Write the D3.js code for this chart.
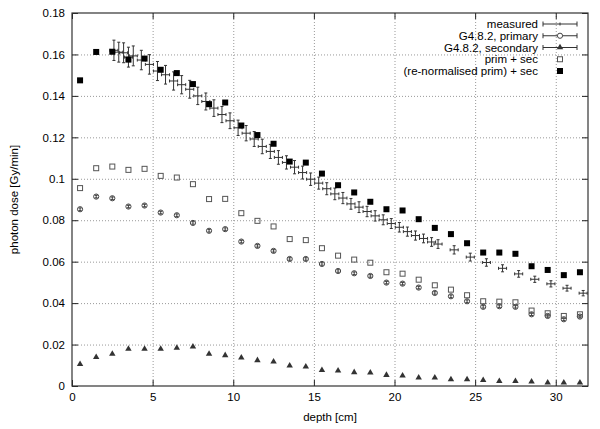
<!DOCTYPE html>
<html>
<head>
<meta charset="utf-8">
<script src="https://cdn.jsdelivr.net/npm/d3@7"></script>
<style>
body{margin:0;background:#fff;}
svg{display:block;font-family:"Liberation Sans",Arial,sans-serif;}
.grid line{stroke:#999;stroke-dasharray:1,2;}
.grid path{display:none;}
.axis path{display:none;}
.axis line{stroke:#222;}
.axis text{fill:#000;font-size:11.5px;}
</style>
</head>
<body>
<div id="chart"></div>
<script>
// simulated depths (bin centres)
var simDepth = [0.5,1.5,2.5,3.5,4.5,5.5,6.5,7.5,8.5,9.5,10.5,11.5,12.5,13.5,14.5,15.5,
	16.5,17.5,18.5,19.5,20.5,21.5,22.5,23.5,24.5,25.5,26.5,27.5,28.5,29.5,30.5,31.5];

var primary = [0.0853,0.0914,0.0906,0.0866,0.0871,0.0837,0.0824,0.0787,0.0749,0.0757,0.0697,0.0676,
	0.0652,0.0613,0.0613,0.0589,0.0555,0.0544,0.0531,0.0499,0.0494,0.0475,0.0449,0.0433,
	0.0409,0.0382,0.0385,0.0382,0.0346,0.0338,0.0322,0.0335];

var secondary = [0.0105,0.0139,0.0155,0.0179,0.0179,0.0179,0.0184,0.0190,0.0155,0.0148,0.0137,0.0124,
	0.0117,0.0098,0.0093,0.0076,0.0074,0.0066,0.0064,0.0053,0.0050,0.0040,0.0040,0.0032,
	0.0032,0.0028,0.0023,0.0023,0.0021,0.0016,0.0016,0.0016];

var primSec = [0.0955,0.1051,0.1059,0.1043,0.1048,0.1014,0.1006,0.0974,0.0902,0.0903,0.0834,0.0797,
	0.0770,0.0709,0.0704,0.0665,0.0629,0.0610,0.0595,0.0549,0.0542,0.0513,0.0486,0.0465,
	0.0438,0.0409,0.0407,0.0404,0.0364,0.0351,0.0338,0.0346];

var renormSec = [0.1475,0.1612,0.1613,0.1575,0.1580,0.1526,0.1510,0.1457,0.1360,0.1368,0.1257,0.1211,
	0.1169,0.1083,0.1078,0.1025,0.0969,0.0934,0.0889,0.0853,0.0847,0.0805,0.0763,0.0733,
	0.0689,0.0644,0.0644,0.0638,0.0578,0.0560,0.0535,0.0549];

// measurement
var measDepth = [2.6,2.9,3.2,3.5,3.8,4.3,4.8,5.3,5.8,6.3,6.8,7.3,7.8,8.3,8.8,9.3,9.8,10.3,10.8,11.3,
	11.8,12.3,12.8,13.3,13.8,14.3,14.8,15.3,15.8,16.3,16.8,17.3,17.8,18.3,18.8,19.3,19.8,20.3,
	20.8,21.3,21.8,22.3,22.7,23.7,24.7,25.7,26.7,27.7,28.7,29.7,30.7,31.7];

var measDose = [0.1620,0.1611,0.1608,0.1587,0.1593,0.1573,0.1552,0.1520,0.1502,0.1472,0.1454,0.1432,
	0.1400,0.1373,0.1341,0.1310,0.1280,0.1246,0.1220,0.1192,0.1156,0.1132,0.1103,0.1079,0.1056,
	0.1030,0.0998,0.0979,0.0952,0.0927,0.0907,0.0879,0.0863,0.0842,0.0821,0.0802,0.0784,0.0766,
	0.0745,0.0726,0.0712,0.0695,0.0685,0.0657,0.0622,0.0596,0.0568,0.0541,0.0515,0.0493,0.0472,0.0448];

var measErr = [0.0049,0.0048,0.0048,0.0048,0.0048,0.0047,0.0047,0.0046,0.0045,0.0044,0.0044,0.0043,
	0.0042,0.0041,0.0040,0.0039,0.0038,0.0037,0.0037,0.0036,0.0035,0.0034,0.0033,0.0032,0.0032,
	0.0031,0.0030,0.0029,0.0029,0.0028,0.0027,0.0026,0.0026,0.0025,0.0025,0.0024,0.0024,0.0023,
	0.0022,0.0022,0.0021,0.0021,0.0021,0.0020,0.0019,0.0018,0.0017,0.0016,0.0015,0.0015,0.0014,0.0013];

var measDepthErr = 0.25;

var xTicks = [0,5,10,15,20,25,30];
var yTicks = [0,0.02,0.04,0.06,0.08,0.1,0.12,0.14,0.16,0.18];

var legendLabels = ["measured","G4.8.2, primary","G4.8.2, secondary","prim + sec","(re-normalised prim) + sec"];

var W = 600, H = 429;
var padL = 72, padR = 588, padT = 13, padB = 386;

var svg = d3.select("#chart").append("svg").attr("width",W).attr("height",H);
svg.append("rect").attr("width",W).attr("height",H).attr("fill","#fff");

var x = d3.scaleLinear().domain([0,32]).range([padL,padR]);
var y = d3.scaleLinear().domain([0,0.18]).range([padB,padT]);

//grid
svg.append("g").attr("class","grid")
	.attr("transform","translate(0,"+padB+")")
	.call(d3.axisBottom(x).tickValues(xTicks.filter(function(t){return t>0;})).tickSize(-(padB-padT)).tickFormat(""));
svg.append("g").attr("class","grid")
	.attr("transform","translate("+padL+",0)")
	.call(d3.axisLeft(y).tickValues(yTicks.filter(function(t){return t>0 && t<0.18;})).tickSize(-(padR-padL)).tickFormat(""));

var fmt = function(d){ return String(+d.toFixed(2)); };

//axes, ticks inward + mirrored
svg.append("g").attr("class","axis")
	.attr("transform","translate(0,"+padB+")")
	.call(d3.axisBottom(x).tickValues(xTicks).tickSizeInner(-6).tickSizeOuter(0).tickPadding(7).tickFormat(fmt));
svg.append("g").attr("class","axis")
	.attr("transform","translate(0,"+padT+")")
	.call(d3.axisTop(x).tickValues(xTicks).tickSizeInner(-6).tickSizeOuter(0).tickFormat(""));
svg.append("g").attr("class","axis")
	.attr("transform","translate("+padL+",0)")
	.call(d3.axisLeft(y).tickValues(yTicks).tickSizeInner(-6).tickSizeOuter(0).tickPadding(7).tickFormat(fmt));
svg.append("g").attr("class","axis")
	.attr("transform","translate("+padR+",0)")
	.call(d3.axisRight(y).tickValues(yTicks).tickSizeInner(-6).tickSizeOuter(0).tickFormat(""));

svg.append("rect")
	.attr("x",padL).attr("y",padT)
	.attr("width",padR-padL).attr("height",padB-padT)
	.attr("fill","none").attr("stroke","#333").attr("stroke-width",1.2);

svg.append("text").attr("x",(padL+padR)/2).attr("y",421)
	.attr("text-anchor","middle").attr("font-size","11.5px").text("depth [cm]");
svg.append("text").attr("transform","translate(18,"+((padT+padB)/2)+") rotate(-90)")
	.attr("text-anchor","middle").attr("font-size","11.5px").text("photon dose [Gy/min]");

var sim = simDepth.map(function(d,i){
	return {d:d, prim:primary[i], sec:secondary[i], ps:primSec[i], rn:renormSec[i]};
});
var meas = measDepth.map(function(d,i){
	return {d:d, v:measDose[i], e:measErr[i]};
});

var cap = 1.5;

//measured xy error bars
var mg = svg.append("g").attr("stroke","#333").attr("stroke-width",1).attr("fill","none");
meas.forEach(function(p){
	var cx = x(p.d), cy = y(p.v);
	var y1 = y(p.v - p.e), y2 = y(p.v + p.e);
	var x1 = x(p.d - measDepthErr), x2 = x(p.d + measDepthErr);
	var path = "M"+cx+","+y1+"V"+y2
		+"M"+(cx-cap)+","+y1+"H"+(cx+cap)
		+"M"+(cx-cap)+","+y2+"H"+(cx+cap)
		+"M"+x1+","+cy+"H"+x2
		+"M"+x1+","+(cy-cap)+"V"+(cy+cap)
		+"M"+x2+","+(cy-cap)+"V"+(cy+cap);
	mg.append("path").attr("d",path);
});

//primary: open circles with tiny error bars
var cg = svg.append("g").attr("stroke","#444").attr("stroke-width",1).attr("fill","none");
cg.selectAll("circle").data(sim).enter().append("circle")
	.attr("cx",function(p){return x(p.d);})
	.attr("cy",function(p){return y(p.prim);})
	.attr("r",2.6);
cg.selectAll("path").data(sim).enter().append("path")
	.attr("d",function(p){
		var cx=x(p.d), cy=y(p.prim);
		return "M"+cx+","+(cy-2)+"V"+(cy+2)+"M"+(cx-1.5)+","+(cy-1.2)+"H"+(cx+1.5)+"M"+(cx-1.5)+","+(cy+1.2)+"H"+(cx+1.5);
	});

//secondary: triangles
var tri = d3.symbol().type(d3.symbolTriangle).size(18);
svg.append("g").selectAll("path").data(sim).enter().append("path")
	.attr("d",tri)
	.attr("transform",function(p){return "translate("+x(p.d)+","+y(p.sec)+")";})
	.attr("fill","#333");

//prim + sec: open squares
svg.append("g").selectAll("rect").data(sim).enter().append("rect")
	.attr("x",function(p){return x(p.d)-2.5;})
	.attr("y",function(p){return y(p.ps)-2.5;})
	.attr("width",5).attr("height",5)
	.attr("fill","none").attr("stroke","#555").attr("stroke-width",1);

//re-normalised: filled squares
svg.append("g").selectAll("rect").data(sim).enter().append("rect")
	.attr("x",function(p){return x(p.d)-3;})
	.attr("y",function(p){return y(p.rn)-3;})
	.attr("width",6).attr("height",6)
	.attr("fill","#000");

//legend
var lx = 538, sl = 543, sr = 577, sc = (sl+sr)/2;
var ly = [24,35.75,47.5,59.25,71];
var lg = svg.append("g");
legendLabels.forEach(function(t,i){
	lg.append("text").attr("x",lx).attr("y",ly[i]).attr("dy","0.35em")
		.attr("text-anchor","end").attr("font-size","11.5px").text(t);
});
var sg = lg.append("g").attr("stroke","#333").attr("stroke-width",1).attr("fill","none");
[0,1,2].forEach(function(i){
	sg.append("path").attr("d","M"+sl+","+ly[i]+"H"+sr
		+"M"+sl+","+(ly[i]-2.5)+"V"+(ly[i]+2.5)
		+"M"+sr+","+(ly[i]-2.5)+"V"+(ly[i]+2.5));
});
sg.append("path").attr("d","M"+sc+","+(ly[0]-1.5)+"V"+(ly[0]+1.5));
sg.append("circle").attr("cx",sc).attr("cy",ly[1]).attr("r",2.6).attr("fill","#fff").attr("stroke","#444");
lg.append("path").attr("d",tri).attr("transform","translate("+sc+","+ly[2]+")").attr("fill","#333");
lg.append("rect").attr("x",sc-2.5).attr("y",ly[3]-2.5).attr("width",5).attr("height",5)
	.attr("fill","none").attr("stroke","#555");
lg.append("rect").attr("x",sc-3).attr("y",ly[4]-3).attr("width",6).attr("height",6).attr("fill","#000");
</script>
</body>
</html>
